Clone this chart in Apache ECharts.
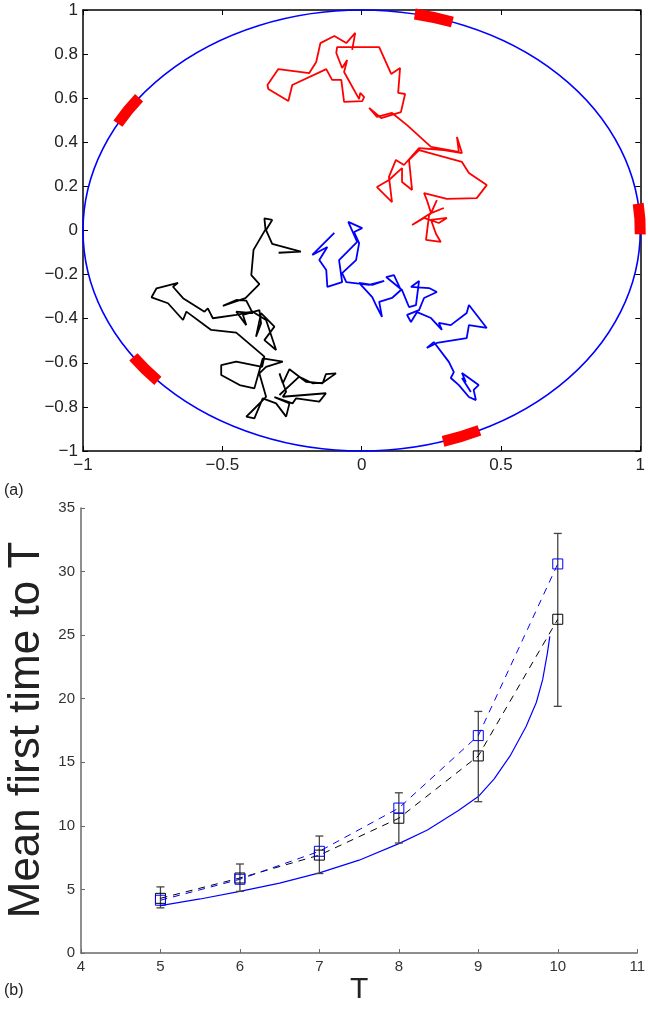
<!DOCTYPE html>
<html>
<head>
<meta charset="utf-8">
<script src="https://cdn.jsdelivr.net/npm/echarts@6/dist/echarts.min.js"></script>
<style>html,body{margin:0;padding:0;background:#fff}#c{width:648px;height:1010px}</style>
</head>
<body>
<div id="c"></div>
<script>
// ---------- panel (a): random walks in the unit disc ----------
const circleCenter = [0, 0];
const circleRadius = 1;
const arcCentersDeg = [3, 75, 147, 219, 291];
const arcSpanDeg = 8;

const redWalk = [[-0.034,0.819],[-0.023,0.896],[-0.055,0.850],[-0.098,0.882],[-0.148,0.850],[-0.163,0.764],[-0.188,0.714],[-0.299,0.732],[-0.338,0.660],[-0.335,0.642],[-0.263,0.587],[-0.249,0.660],[-0.127,0.732],[-0.106,0.683],[-0.073,0.683],[-0.063,0.583],[0.002,0.587],[0.009,0.605],[-0.005,0.624],[-0.009,0.596],[-0.063,0.719],[-0.052,0.773],[-0.070,0.737],[-0.091,0.805],[-0.088,0.832],[0.063,0.832],[0.106,0.710],[0.138,0.737],[0.131,0.624],[0.156,0.619],[0.141,0.537],[0.070,0.510],[0.027,0.556],[0.055,0.515],[0.109,0.533],[0.163,0.478],[0.249,0.379],[0.349,0.356],[0.342,0.424],[0.360,0.351],[0.295,0.365],[0.206,0.374],[0.152,0.297],[0.123,0.320],[0.098,0.243],[0.109,0.129],[0.055,0.197],[0.098,0.229],[0.145,0.283],[0.145,0.220],[0.181,0.184],[0.170,0.320],[0.206,0.365],[0.360,0.311],[0.385,0.261],[0.449,0.206],[0.413,0.147],[0.306,0.143],[0.224,0.170],[0.234,0.138],[0.249,0.079],[0.270,0.138],[0.249,0.079],[0.295,0.102],[0.249,0.079],[0.181,0.025],[0.224,0.057],[0.277,0.034],[0.306,0.057],[0.249,0.048],[0.267,-0.016],[0.284,-0.052],[0.231,-0.043],[0.242,0.070],[0.249,0.079]];

const blueWalk = [[-0.098,-0.011],[-0.177,-0.111],[-0.123,-0.075],[-0.152,-0.134],[-0.127,-0.179],[-0.123,-0.256],[-0.070,-0.234],[-0.081,-0.134],[-0.016,-0.052],[-0.048,0.039],[0.002,0.011],[-0.027,-0.007],[-0.009,-0.057],[-0.020,-0.134],[-0.070,-0.193],[-0.055,-0.234],[0.027,-0.247],[0.081,-0.229],[0.038,-0.247],[-0.009,-0.238],[0.038,-0.302],[0.055,-0.347],[0.073,-0.392],[0.063,-0.324],[0.109,-0.306],[0.141,-0.270],[0.116,-0.202],[0.088,-0.211],[0.145,-0.270],[0.170,-0.347],[0.195,-0.338],[0.206,-0.229],[0.177,-0.256],[0.242,-0.261],[0.270,-0.279],[0.224,-0.306],[0.206,-0.361],[0.163,-0.383],[0.177,-0.415],[0.199,-0.370],[0.249,-0.397],[0.288,-0.451],[0.277,-0.419],[0.320,-0.429],[0.377,-0.374],[0.385,-0.338],[0.449,-0.442],[0.385,-0.429],[0.377,-0.488],[0.270,-0.510],[0.234,-0.533],[0.259,-0.506],[0.313,-0.596],[0.331,-0.642],[0.320,-0.669],[0.349,-0.701],[0.385,-0.755],[0.410,-0.769],[0.402,-0.723],[0.420,-0.701],[0.360,-0.646],[0.374,-0.687],[0.360,-0.669],[0.392,-0.732]];

const blackWalk = [[-0.298,-0.101],[-0.218,-0.096],[-0.321,-0.061],[-0.343,0.002],[-0.321,0.048],[-0.349,0.055],[-0.345,0.005],[-0.388,-0.088],[-0.396,-0.202],[-0.367,-0.243],[-0.417,-0.307],[-0.498,-0.342],[-0.450,-0.315],[-0.414,-0.318],[-0.391,-0.375],[-0.450,-0.368],[-0.414,-0.429],[-0.426,-0.383],[-0.367,-0.361],[-0.361,-0.421],[-0.379,-0.482],[-0.361,-0.375],[-0.313,-0.436],[-0.349,-0.497],[-0.307,-0.542],[-0.343,-0.406],[-0.391,-0.368],[-0.450,-0.383],[-0.534,-0.398],[-0.552,-0.353],[-0.564,-0.368],[-0.641,-0.307],[-0.677,-0.255],[-0.659,-0.237],[-0.736,-0.262],[-0.754,-0.303],[-0.695,-0.330],[-0.641,-0.406],[-0.629,-0.368],[-0.540,-0.451],[-0.450,-0.463],[-0.349,-0.572],[-0.357,-0.618],[-0.450,-0.595],[-0.504,-0.610],[-0.504,-0.655],[-0.438,-0.701],[-0.385,-0.716],[-0.355,-0.580],[-0.283,-0.595],[-0.343,-0.618],[-0.367,-0.648],[-0.343,-0.754],[-0.396,-0.822],[-0.414,-0.844],[-0.385,-0.852],[-0.355,-0.761],[-0.307,-0.784],[-0.271,-0.844],[-0.259,-0.784],[-0.313,-0.756],[-0.248,-0.784],[-0.235,-0.761],[-0.152,-0.776],[-0.128,-0.738],[-0.283,-0.754],[-0.271,-0.731],[-0.295,-0.648],[-0.283,-0.693],[-0.259,-0.629],[-0.200,-0.686],[-0.140,-0.693],[-0.128,-0.651],[-0.092,-0.648],[-0.140,-0.690],[-0.176,-0.693],[-0.224,-0.663],[-0.295,-0.746]];

// ---------- panel (b): mean first time to T ----------
const Tvalues = [5, 6, 7, 8, 9, 10];
const simBlue = [4.15, 5.8, 8.0, 11.4, 17.1, 30.6];
const simBlack = [4.3, 5.9, 7.7, 10.6, 15.5, 26.25];
const errLow = [3.55, 4.85, 6.25, 8.65, 11.9, 19.4];
const errHigh = [5.2, 7.0, 9.2, 12.6, 19.0, 33.0];
const theoryT = [5, 5.5, 6, 6.5, 7, 7.5, 8, 8.36, 8.75, 9, 9.2, 9.4, 9.6, 9.73, 9.81, 9.87, 9.9];
const theoryMean = [3.72, 4.25, 4.85, 5.5, 6.3, 7.3, 8.6, 9.68, 11.2, 12.3, 13.7, 15.5, 17.8, 19.7, 21.5, 23.6, 24.9];

const FONT = '"Liberation Sans", Arial, Helvetica, sans-serif';
function fmtTop(v) { return String(Math.round(v * 10) / 10).replace('-', '\u2212'); }

const chart = echarts.init(document.getElementById('c'), null, { renderer: 'canvas', width: 648, height: 1010 });

const blackLine = { show: true, onZero: false, lineStyle: { color: '#000', width: 1.5 } };
const blackTick = { show: true, inside: true, length: 5, lineStyle: { color: '#000', width: 1 } };
const greyLine = { show: true, onZero: false, lineStyle: { color: '#6a6a6a', width: 1.5 } };
const greyTick = { show: true, inside: true, length: 4, lineStyle: { color: '#6a6a6a', width: 1 } };

chart.setOption({
  animation: false,
  backgroundColor: '#fff',
  grid: [
    { left: 83, right: 5, top: 10, height: 441 },
    { left: 81, right: 6, top: 508, height: 445 }
  ],
  xAxis: [
    { gridIndex: 0, type: 'value', min: -1, max: 1, interval: 0.5, position: 'bottom',
      axisLine: blackLine, axisTick: blackTick, splitLine: { show: false },
      axisLabel: { fontFamily: FONT, fontSize: 17, color: '#222', margin: 6, formatter: fmtTop, showMinLabel: true, showMaxLabel: true } },
    { gridIndex: 0, type: 'value', min: -1, max: 1, interval: 0.5, position: 'top',
      axisLine: blackLine, axisTick: blackTick, splitLine: { show: false }, axisLabel: { show: false } },
    { gridIndex: 1, type: 'value', min: 4, max: 11, interval: 1, position: 'bottom',
      axisLine: greyLine, axisTick: greyTick, splitLine: { show: false },
      axisLabel: { fontFamily: FONT, fontSize: 15, color: '#333', margin: 6, showMinLabel: true, showMaxLabel: true },
      name: 'T', nameLocation: 'middle', nameGap: 21,
      nameTextStyle: { fontFamily: FONT, fontSize: 30, color: '#222' } }
  ],
  yAxis: [
    { gridIndex: 0, type: 'value', min: -1, max: 1, interval: 0.2, position: 'left',
      axisLine: blackLine, axisTick: blackTick, splitLine: { show: false },
      axisLabel: { fontFamily: FONT, fontSize: 17, color: '#222', margin: 5, formatter: fmtTop, showMinLabel: true, showMaxLabel: true } },
    { gridIndex: 0, type: 'value', min: -1, max: 1, interval: 0.2, position: 'right',
      axisLine: blackLine, axisTick: blackTick, splitLine: { show: false }, axisLabel: { show: false } },
    { gridIndex: 1, type: 'value', min: 0, max: 35, interval: 5, position: 'left',
      axisLine: greyLine, axisTick: greyTick, splitLine: { show: false },
      axisLabel: { fontFamily: FONT, fontSize: 15, color: '#333', margin: 6, showMinLabel: true, showMaxLabel: true } }
  ],
  graphic: [
    { type: 'text', left: 4, top: 483, style: { text: '(a)', font: '16px ' + FONT, fill: '#222' } },
    { type: 'text', left: 4, top: 983, style: { text: '(b)', font: '16px ' + FONT, fill: '#222' } },
    { type: 'text', x: 27, y: 730, rotation: Math.PI / 2,
      style: { text: 'Mean first time to T', font: '44px ' + FONT, fill: '#222', textAlign: 'center', textVerticalAlign: 'middle' } }
  ],
  series: [
    { type: 'custom', xAxisIndex: 0, yAxisIndex: 0, silent: true, z: 1,
      data: [[circleCenter[0], circleCenter[1], circleRadius]], encode: { x: 0, y: 1 },
      renderItem: function (p, api) {
        const c = api.coord([api.value(0), api.value(1)]);
        const s = api.size([api.value(2), api.value(2)]);
        const rx = s[0], ry = s[1];
        return { type: 'path',
          shape: { pathData: 'M ' + (c[0] - rx) + ' ' + c[1] + ' A ' + rx + ' ' + ry + ' 0 1 0 ' + (c[0] + rx) + ' ' + c[1] +
                   ' A ' + rx + ' ' + ry + ' 0 1 0 ' + (c[0] - rx) + ' ' + c[1] },
          style: { fill: 'none', stroke: '#0000ff', lineWidth: 1.6 } };
      } },
    { type: 'line', xAxisIndex: 0, yAxisIndex: 0, data: redWalk, symbol: 'none', z: 2,
      lineStyle: { color: '#ff0000', width: 1.8 } },
    { type: 'line', xAxisIndex: 0, yAxisIndex: 0, data: blueWalk, symbol: 'none', z: 2,
      lineStyle: { color: '#0000ff', width: 1.8 } },
    { type: 'line', xAxisIndex: 0, yAxisIndex: 0, data: blackWalk, symbol: 'none', z: 2,
      lineStyle: { color: '#000000', width: 1.8 } },
    { type: 'custom', xAxisIndex: 0, yAxisIndex: 0, silent: true, z: 3,
      data: arcCentersDeg.map(function (d) { return [circleCenter[0], circleCenter[1], d]; }), encode: { x: 0, y: 1 },
      renderItem: function (p, api) {
        const a0 = (api.value(2) - arcSpanDeg / 2) * Math.PI / 180;
        const a1 = (api.value(2) + arcSpanDeg / 2) * Math.PI / 180;
        const cx = api.value(0), cy = api.value(1);
        const p0 = api.coord([cx + circleRadius * Math.cos(a0), cy + circleRadius * Math.sin(a0)]);
        const p1 = api.coord([cx + circleRadius * Math.cos(a1), cy + circleRadius * Math.sin(a1)]);
        const s = api.size([circleRadius, circleRadius]);
        return { type: 'path',
          shape: { pathData: 'M ' + p0[0] + ' ' + p0[1] + ' A ' + s[0] + ' ' + s[1] + ' 0 0 0 ' + p1[0] + ' ' + p1[1] },
          style: { fill: 'none', stroke: '#ff0000', lineWidth: 11, lineCap: 'butt', lineJoin: 'bevel' } };
      } },

    { type: 'line', xAxisIndex: 2, yAxisIndex: 2, symbol: 'none', z: 2,
      data: theoryT.map(function (t, i) { return [t, theoryMean[i]]; }),
      lineStyle: { color: '#0000ff', width: 1.2 } },
    { type: 'custom', xAxisIndex: 2, yAxisIndex: 2, silent: true, z: 3,
      data: Tvalues.map(function (t, i) { return [t, errLow[i], errHigh[i]]; }), encode: { x: 0, y: [1, 2] },
      renderItem: function (p, api) {
        const lo = api.coord([api.value(0), api.value(1)]);
        const hi = api.coord([api.value(0), api.value(2)]);
        const st = { stroke: '#444', lineWidth: 1.3 };
        return { type: 'group', children: [
          { type: 'line', shape: { x1: lo[0], y1: lo[1], x2: hi[0], y2: hi[1] }, style: st },
          { type: 'line', shape: { x1: lo[0] - 4, y1: lo[1], x2: lo[0] + 4, y2: lo[1] }, style: st },
          { type: 'line', shape: { x1: hi[0] - 4, y1: hi[1], x2: hi[0] + 4, y2: hi[1] }, style: st }
        ] };
      } },
    { type: 'line', xAxisIndex: 2, yAxisIndex: 2, z: 4,
      data: Tvalues.map(function (t, i) { return [t, simBlack[i]]; }),
      symbol: 'rect', symbolSize: 10, showSymbol: true,
      itemStyle: { color: 'rgba(0,0,0,0)', borderColor: '#000', borderWidth: 1 },
      lineStyle: { color: '#000', width: 1, type: [7, 6] } },
    { type: 'line', xAxisIndex: 2, yAxisIndex: 2, z: 4,
      data: Tvalues.map(function (t, i) { return [t, simBlue[i]]; }),
      symbol: 'rect', symbolSize: 10, showSymbol: true,
      itemStyle: { color: 'rgba(0,0,0,0)', borderColor: '#0000ff', borderWidth: 1 },
      lineStyle: { color: '#0000ff', width: 1, type: [7, 6] } }
  ]
});
</script>
</body>
</html>
